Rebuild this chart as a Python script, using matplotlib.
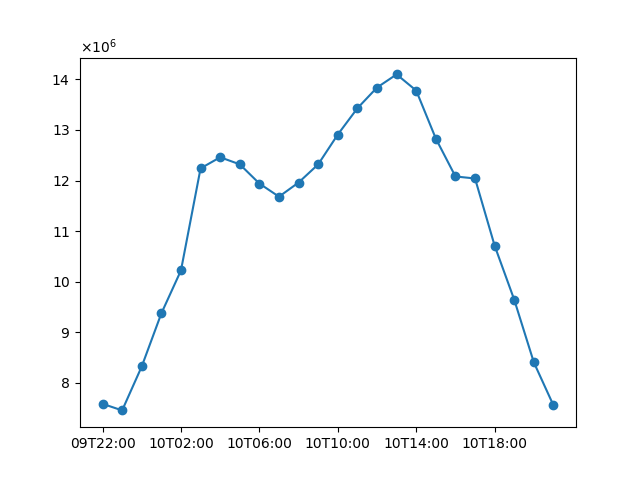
import numpy as np
import matplotlib
matplotlib.use('Agg')
from matplotlib import pyplot as plt
from matplotlib.ticker import ScalarFormatter

times = ['09T22:00', '09T23:00'] + [f'10T{h:02d}:00' for h in range(22)]
values = [7.58, 7.45, 8.32, 9.37, 10.22, 12.24, 12.46, 12.32, 11.94, 11.68, 11.96, 12.32,
          12.91, 13.43, 13.84, 14.10, 13.78, 12.83, 12.08, 12.04, 10.71, 9.64, 8.40, 7.55]
values = np.array(values) * 1e6

fig, ax = plt.subplots(figsize=(6.4, 4.8), dpi=100)
ax.plot(times, values, marker='o')
ax.set_xticks(range(0, len(times), 4))
fmt = ScalarFormatter(useMathText=True)
fmt.set_powerlimits((6, 6))
ax.yaxis.set_major_formatter(fmt)

fig.savefig('out.png')
